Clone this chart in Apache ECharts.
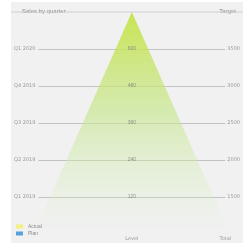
<!DOCTYPE html>
<html lang="en">
<head>
    <meta charset="UTF-8">
    <title>pyramid</title>
    <script src="https://cdn.jsdelivr.net/npm/echarts@6/dist/echarts.min.js"></script>
    <style>
        body, html { margin: 0; padding: 0; background: #fff; }
        #main { position: absolute; left: 11px; top: 2px; width: 232px; height: 241px; background: #f1f1f1; }
    </style>
</head>
<body>
    <div id="main"></div>
    <script>
        // data
        var levels = [1, 2, 3, 4, 5];
        var leftLabels = ['Q1 2019', 'Q2 2019', 'Q3 2019', 'Q4 2019', 'Q1 2020'];
        var centerValues = [120, 240, 360, 480, 600];
        var rightLabels = ['1500', '2000', '2500', '3000', '3500'];
        var xTicks = { '0': 'Level', '1': 'Total' };
        var pyramid = [[0, 6, 1.05]]; // apex x, apex y, half width at base

        var myChart = echarts.init(document.getElementById('main'));
        var txt = { color: '#9a9a9a', fontSize: 5, fontFamily: 'DejaVu Sans' };

        var option = {
            animation: false,
            title: [
                { text: 'Sales by quarter', left: 6, top: 1, textStyle: { color: '#8a8a8a', fontSize: 6, fontWeight: 'normal' } },
                { text: 'Target', right: 2, top: 1, textStyle: { color: '#8a8a8a', fontSize: 6, fontWeight: 'normal' } }
            ],
            legend: {
                orient: 'vertical',
                left: 0,
                bottom: 2,
                icon: 'rect',
                itemWidth: 7,
                itemHeight: 4,
                itemGap: 2,
                textStyle: { color: '#8a8a8a', fontSize: 5 },
                data: [
                    { name: 'Actual', itemStyle: { color: '#f3ef83' } },
                    { name: 'Plan', itemStyle: { color: '#2f8fd8' } }
                ]
            },
            grid: { left: 27, right: 16, top: 10, bottom: 9 },
            xAxis: {
                type: 'value', min: -1, max: 1, interval: 1,
                axisLine: { show: false }, axisTick: { show: false }, splitLine: { show: false },
                axisLabel: Object.assign({ margin: 2, formatter: function (v) { return xTicks[v] || ''; } }, txt)
            },
            yAxis: [
                {
                    type: 'value', min: 0, max: 6, interval: 1,
                    axisLine: { show: false }, axisTick: { show: false },
                    splitLine: { lineStyle: { color: ['rgba(0,0,0,0)', '#c2c2c2', '#c2c2c2', '#c2c2c2', '#c2c2c2', '#c2c2c2', 'rgba(0,0,0,0)'], width: 1 } },
                    axisLabel: Object.assign({ margin: 3, formatter: function (v) { return leftLabels[v - 1] || ''; } }, txt)
                },
                {
                    type: 'value', min: 0, max: 6, interval: 1, position: 'right',
                    axisLine: { show: false }, axisTick: { show: false }, splitLine: { show: false },
                    axisLabel: Object.assign({ margin: 2, formatter: function (v) { return rightLabels[v - 1] || ''; } }, txt)
                }
            ],
            graphic: [
                { type: 'line', shape: { x1: 0, y1: 10, x2: 232, y2: 10 }, style: { stroke: '#cfcfcf', lineWidth: 1 }, z: 100 }
            ],
            series: [
                {
                    name: 'Actual',
                    type: 'custom',
                    data: pyramid,
                    renderItem: function (params, api) {
                        var apex = api.coord([api.value(0), api.value(1)]);
                        var l = api.coord([api.value(0) - api.value(2), 0]);
                        var r = api.coord([api.value(0) + api.value(2), 0]);
                        return {
                            type: 'polygon',
                            shape: { points: [apex, l, r] },
                            style: {
                                fill: new echarts.graphic.LinearGradient(0, 0, 0, 1, [
                                    { offset: 0, color: 'rgba(200,228,80,1)' },
                                    { offset: 0.45, color: 'rgba(198,230,140,0.65)' },
                                    { offset: 0.8, color: 'rgba(215,238,190,0.3)' },
                                    { offset: 1, color: 'rgba(230,245,220,0)' }
                                ])
                            }
                        };
                    },
                    z: 1
                },
                {
                    name: 'Plan',
                    type: 'scatter',
                    symbolSize: 0,
                    data: levels.map(function (lv, i) { return [0, lv, centerValues[i]]; }),
                    label: {
                        show: true, position: 'inside',
                        formatter: function (p) { return p.value[2]; },
                        color: '#7a7a7a', fontSize: 5
                    },
                    z: 5
                }
            ]
        };
        myChart.setOption(option);
    </script>
</body>
</html>
